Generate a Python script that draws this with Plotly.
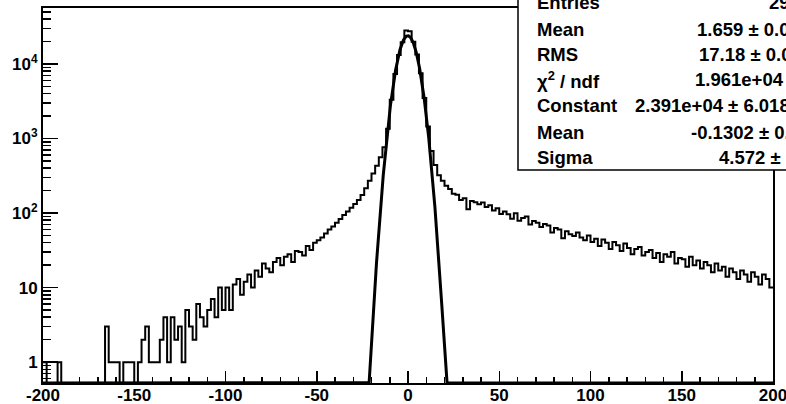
import numpy as np
import plotly.graph_objects as go

# ---- data ----
bin_edges_range = [-200, 200]
n_bins = 200
counts = [
    1, 0, 0, 0, 1, 0, 0, 0, 0, 0,
    0, 0, 0, 0, 0, 0, 0, 3, 1, 1,
    1, 0, 1, 1, 1, 0, 1, 2, 3, 1,
    1, 1, 2, 4, 1, 4, 2, 3, 1, 5,
    3, 2, 6, 4, 3, 5, 7, 4, 10, 5,
    10, 5, 11, 13, 8, 12, 15, 10, 17, 14,
    21, 18, 16, 22, 25, 20, 26, 28, 22, 31,
    30, 27, 36, 32, 40, 43, 47, 53, 60, 66,
    74, 83, 94, 105, 118, 132, 150, 175, 215, 270,
    340, 430, 560, 760, 1350, 3300, 7300, 13200, 19600, 28000,
    27500, 19800, 13400, 7500, 3500, 1450, 680, 440, 320, 270,
    232, 210, 182, 176, 150, 158, 112, 145, 140, 131,
    138, 120, 127, 108, 116, 97, 105, 96, 84, 99,
    79, 86, 90, 70, 78, 74, 65, 71, 68, 55,
    63, 60, 46, 57, 52, 49, 55, 47, 43, 50,
    41, 45, 36, 44, 40, 33, 41, 37, 31, 39,
    34, 28, 33, 35, 27, 30, 32, 25, 29, 22,
    28, 26, 30, 21, 25, 24, 19, 26, 20, 23,
    18, 22, 20, 16, 21, 17, 19, 14, 18, 16,
    13, 17, 15, 12, 16, 14, 11, 15, 13, 10,
]

fit_constant = 2.391e4
fit_mean = -0.1302
fit_sigma = 4.572

stat_labels = ["Entries", "Mean", "RMS", "χ<sup>2</sup> / ndf", "Constant", "Mean", "Sigma"]
stat_values = ["296817", "1.659 ± 0.032", "17.18 ± 0.022", "1.961e+04 / 197",
               "2.391e+04 ± 6.018e+01", "-0.1302 ± 0.0093", "4.572 ± 0.008"]

y_tick_vals = [1, 10, 100, 1000, 10000]
y_tick_text = ["1", "10", "10<sup>2</sup>", "10<sup>3</sup>", "10<sup>4</sup>"]
x_tick_vals = [-200, -150, -100, -50, 0, 50, 100, 150, 200]

# ---- geometry ----
W, H = 786, 404
L, R, T, B = 43, 773, 8, 383
ylog_range = [-0.28, 4.75]
ymin = 10 ** ylog_range[0]

def px(x):
    return (x - L) / (R - L)

def py(y):
    return (B - y) / (B - T)

edges = np.linspace(bin_edges_range[0], bin_edges_range[1], n_bins + 1)
c = np.array(counts, dtype=float)
c_plot = np.where(c > 0, c, 0.2)
hx = edges
hy = np.append(c_plot, c_plot[-1])

xf = np.linspace(-200, 200, 4001)
gf = fit_constant * np.exp(-0.5 * ((xf - fit_mean) / fit_sigma) ** 2)
gf = np.maximum(gf, ymin)

fig = go.Figure()
fig.add_trace(go.Scatter(x=hx, y=hy, mode="lines", line=dict(color="black", width=2, shape="hv"),
                         hoverinfo="skip"))
fig.add_trace(go.Scatter(x=xf, y=gf, mode="lines", line=dict(color="black", width=3),
                         hoverinfo="skip"))

font_b = dict(family="Liberation Sans, Arial, sans-serif", color="black", weight="bold")

minor_y = []
for k in range(-1, 5):
    for m in range(2, 10):
        v = m * 10 ** k
        if np.log10(v) > ylog_range[0] and np.log10(v) < ylog_range[1]:
            minor_y.append(v)

fig.update_layout(
    width=W, height=H,
    margin=dict(l=L, r=W - R, t=T, b=H - B, autoexpand=False),
    paper_bgcolor="white", plot_bgcolor="white",
    showlegend=False,
    xaxis=dict(range=[-200, 200], showgrid=False, zeroline=False,
               showline=True, linecolor="black", linewidth=2, mirror=True,
               ticks="inside", ticklen=12, tickwidth=1.5, tickcolor="black",
               tickmode="array", tickvals=x_tick_vals,
               ticktext=[str(v) for v in x_tick_vals],
               tickfont=dict(size=17, **font_b),
               ticklabeloverflow="allow", ticklabelstandoff=-4,
               minor=dict(ticks="inside", ticklen=6, tickwidth=1.5, tickcolor="black",
                          tickmode="linear", tick0=-200, dtick=10),
               automargin=False),
    yaxis=dict(type="log", range=ylog_range, showgrid=False, zeroline=False,
               showline=True, linecolor="black", linewidth=2, mirror=True,
               ticks="inside", ticklen=15, tickwidth=1.5, tickcolor="black",
               tickmode="array", tickvals=y_tick_vals, ticktext=y_tick_text,
               tickfont=dict(size=17, **font_b),
               ticklabeloverflow="allow",
               minor=dict(ticks="inside", ticklen=8, tickwidth=1.5, tickcolor="black",
                          tickmode="array", tickvals=minor_y),
               automargin=False),
)

# stats box
fig.add_shape(type="rect", xref="paper", yref="paper",
              x0=px(518), x1=px(830), y0=py(170), y1=py(-10),
              line=dict(color="black", width=1.5), fillcolor="white", layer="above")

row_y = [3, 29, 54, 80, 106, 132, 157]
val_x = [767, 695, 697, 693, 633, 689, 717]
for lab, val, yy, vx in zip(stat_labels, stat_values, row_y, val_x):
    fig.add_annotation(x=px(535), y=py(yy), xref="paper", yref="paper", text=lab,
                       showarrow=False, xanchor="left", yanchor="middle",
                       font=dict(size=18.5, **font_b))
    fig.add_annotation(x=px(vx), y=py(yy), xref="paper", yref="paper", text=val,
                       showarrow=False, xanchor="left", yanchor="middle",
                       font=dict(size=18.5, **font_b))

fig.write_html("out.html", config={"displayModeBar": False, "staticPlot": True},
               post_script="document.body.style.margin='0px';document.body.style.padding='0px';")
